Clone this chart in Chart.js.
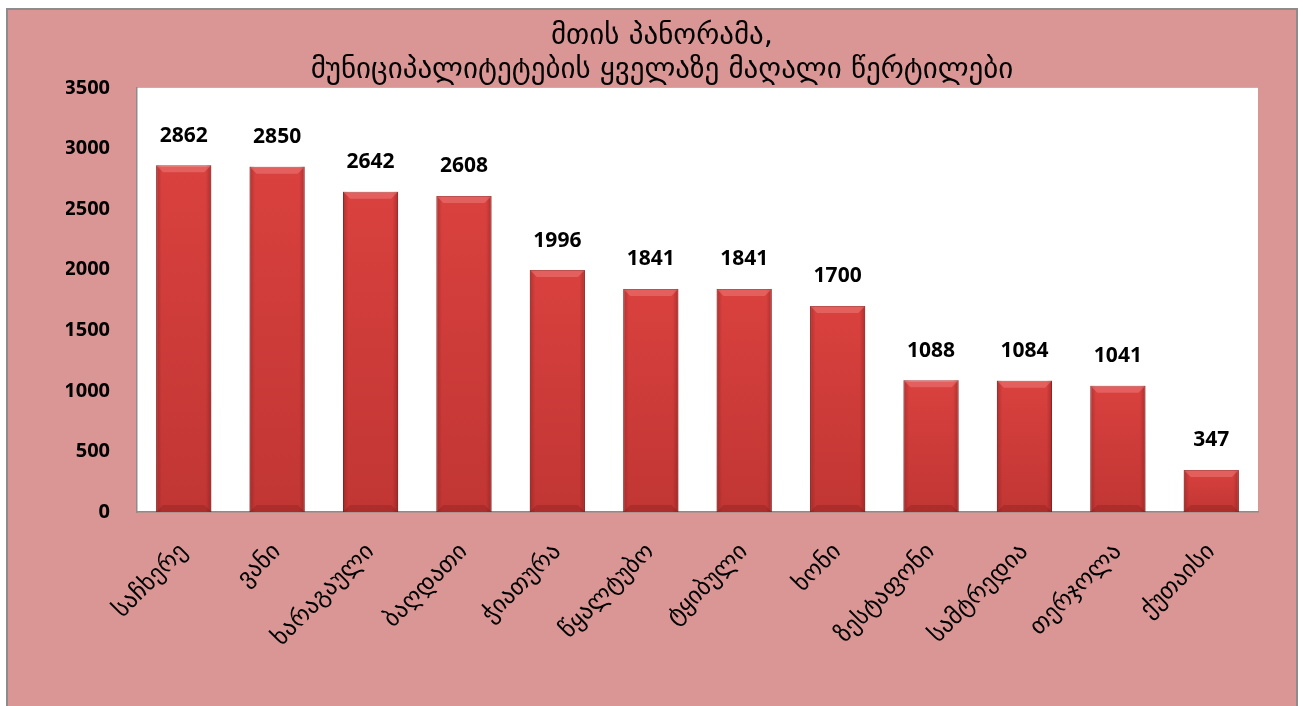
<!DOCTYPE html>
<html><head><meta charset="utf-8">
<script src="https://cdn.jsdelivr.net/npm/chart.js@4"></script>
<style>html,body{margin:0;padding:0;background:#FFFFFF;}#wrap{width:1303px;height:706px;}</style>
</head><body><div id="wrap"><canvas id="c" width="1303" height="706"></canvas></div>
<script>
const titleLines = ["მთის პანორამა,", "მუნიციპალიტეტების ყველაზე მაღალი წერტილები"];
const categories = ["საჩხერე","ვანი","ხარაგაული","ბაღდათი","ჭიათურა","წყალტუბო","ტყიბული","ხონი","ზესტაფონი","სამტრედია","თერჯოლა","ქუთაისი"];
const heights = [2862,2850,2642,2608,1996,1841,1841,1700,1088,1084,1041,347];
const yTicks = [0,500,1000,1500,2000,2500,3000,3500];

const bgPlugin = {
  id:'bg',
  beforeDraw(chart){
    const {ctx, chartArea:a} = chart;
    ctx.save();
    ctx.fillStyle='#FFFFFF';
    ctx.fillRect(0,0,chart.width,chart.height);
    ctx.fillStyle='#D99694';
    ctx.fillRect(7,9,1290,720);
    ctx.strokeStyle='#8C8C8C'; ctx.lineWidth=2;
    ctx.strokeRect(7,9,1290,720);
    ctx.fillStyle='#FFFFFF';
    ctx.fillRect(a.left,a.top,a.right-a.left,a.bottom-a.top);
    ctx.restore();
  }
};
const barFx = {
  id:'barfx',
  afterDatasetsDraw(chart){
    const ctx=chart.ctx; const meta=chart.getDatasetMeta(0);
    ctx.save();
    meta.data.forEach((bar,i)=>{
      const w=bar.width, l=bar.x-w/2, r=bar.x+w/2, t=bar.y, b=bar.base;
      const bv=7;
      let gv=ctx.createLinearGradient(0,t,0,b);
      gv.addColorStop(0,'rgba(120,20,20,0)');
      gv.addColorStop(1,'rgba(120,20,20,0.25)');
      ctx.fillStyle=gv; ctx.fillRect(l,t,w,b-t);
      let g=ctx.createLinearGradient(l,0,r,0);
      g.addColorStop(0,'rgba(110,20,20,0.35)');
      g.addColorStop(0.1,'rgba(110,20,20,0)');
      g.addColorStop(0.9,'rgba(110,20,20,0)');
      g.addColorStop(1,'rgba(110,20,20,0.4)');
      ctx.fillStyle=g; ctx.fillRect(l,t,w,b-t);
      ctx.beginPath(); ctx.moveTo(l,t); ctx.lineTo(r,t); ctx.lineTo(r-bv,t+bv); ctx.lineTo(l+bv,t+bv); ctx.closePath();
      ctx.fillStyle='rgba(255,170,170,0.3)'; ctx.fill();
      ctx.beginPath(); ctx.moveTo(l,b); ctx.lineTo(r,b); ctx.lineTo(r-bv,b-bv); ctx.lineTo(l+bv,b-bv); ctx.closePath();
      ctx.fillStyle='rgba(90,10,10,0.2)'; ctx.fill();
      ctx.fillStyle='#000'; ctx.font='bold 21px "Open Sans", "Liberation Sans", sans-serif';
      ctx.textAlign='center'; ctx.textBaseline='bottom';
      ctx.fillText(String(heights[i]), bar.x, t-19);
    });
    ctx.restore();
  }
};

new Chart(document.getElementById('c'),{
  type:'bar',
  data:{labels:categories,datasets:[{data:heights,backgroundColor:'#D9413E',borderColor:'#A32C2A',borderWidth:1,barPercentage:0.59,categoryPercentage:1}]},
  options:{
    responsive:false,animation:false,
    layout:{padding:{top:0,right:45,bottom:0,left:66}},
    plugins:{legend:{display:false},tooltip:{enabled:false},
      title:{display:true,text:titleLines,color:'#000',font:{family:'"DejaVu Sans", sans-serif',size:29,weight:'normal',lineHeight:1.17},padding:{top:20,bottom:0}}},
    scales:{
      x:{grid:{display:false,drawTicks:false},border:{display:true,color:'#8C8C8C',width:1.5},
        ticks:{color:'#000',maxRotation:45,minRotation:45,padding:26,font:{family:'"DejaVu Sans", sans-serif',size:24}},
        afterFit(s){s.height=706-512;}},
      y:{min:0,max:3500,grid:{display:false,drawTicks:false},border:{display:true,color:'#8C8C8C',width:1.5},
        afterBuildTicks(s){s.ticks=yTicks.map(v=>({value:v}));},
        ticks:{color:'#000',padding:27,callback:(v)=>String(v),font:{family:'"Open Sans", "Liberation Sans", sans-serif',size:20,weight:'bold'}},
        afterFit(s){s.width=71;}}
    }
  },
  plugins:[bgPlugin,barFx]
});
</script></body></html>
